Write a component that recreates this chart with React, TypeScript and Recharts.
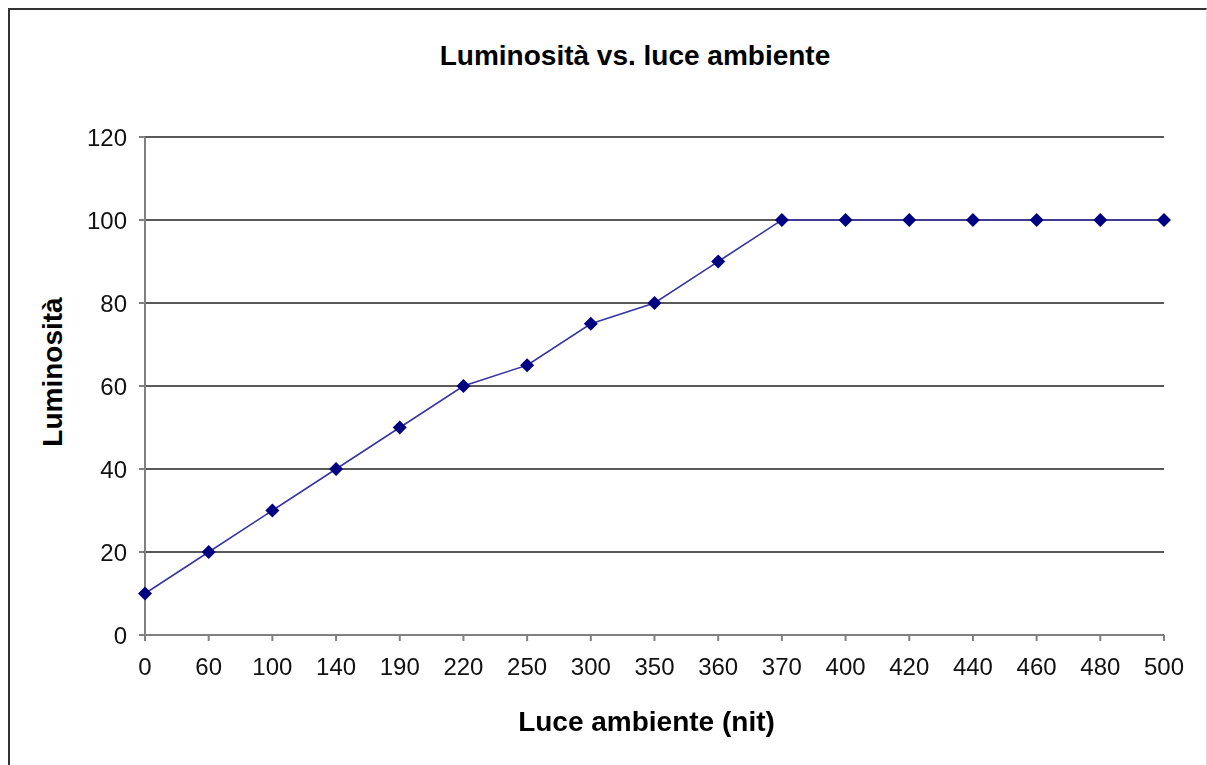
import { LineChart, Line, XAxis, YAxis, CartesianGrid } from 'recharts';

const ambientLight = ['0', '60', '100', '140', '190', '220', '250', '300', '350', '360', '370', '400', '420', '440', '460', '480', '500'];
const brightness = [10, 20, 30, 40, 50, 60, 65, 75, 80, 90, 100, 100, 100, 100, 100, 100, 100];
const yTicks = [0, 20, 40, 60, 80, 100, 120];

const data = ambientLight.map((lux, i) => ({ lux, value: brightness[i] }));

const FONT = '"Liberation Sans", Arial, sans-serif';

function Diamond(props: any) {
  const { cx, cy } = props;
  if (cx == null || cy == null) return null;
  const r = 7;
  return (
    <polygon
      points={`${cx},${cy - r} ${cx + r},${cy} ${cx},${cy + r} ${cx - r},${cy}`}
      fill="#000080"
      stroke="none"
    />
  );
}

export default function App() {
  return (
    <div
      style={{
        position: 'fixed',
        left: 8,
        top: 8,
        width: 1196,
        height: 800,
        borderTop: '2px solid #333',
        borderLeft: '2px solid #333',
        borderRight: '1px solid #ddd',
        background: '#fff',
        fontFamily: FONT,
      }}
    >
      <div
        style={{
          position: 'absolute',
          left: 0,
          width: 1250,
          top: 30,
          textAlign: 'center',
          fontWeight: 'bold',
          fontSize: 28,
          lineHeight: '32px',
        }}
      >
        Luminosità vs. luce ambiente
      </div>
      <div
        style={{
          position: 'absolute',
          left: 43 - 100,
          top: 362 - 16,
          width: 200,
          textAlign: 'center',
          fontWeight: 'bold',
          fontSize: 28,
          lineHeight: '32px',
          transform: 'rotate(-90deg)',
        }}
      >
        Luminosità
      </div>
      <div
        style={{
          position: 'absolute',
          left: 0,
          width: 1273,
          top: 696,
          textAlign: 'center',
          fontWeight: 'bold',
          fontSize: 28,
          lineHeight: '32px',
        }}
      >
        Luce ambiente (nit)
      </div>
      <LineChart
        width={1196}
        height={740}
        data={data}
        margin={{ top: 127, right: 42, left: 75, bottom: 55 }}
        style={{ position: 'absolute', left: 0, top: 0 }}
      >
        <CartesianGrid vertical={false} stroke="#222" strokeWidth={1.3} />
        <XAxis
          dataKey="lux"
          height={60}
          stroke="#808080"
          strokeWidth={2}
          tickSize={6}
          tickMargin={17}
          interval={0}
          tick={{ fill: '#111', fontSize: 24, fontFamily: FONT }}
        />
        <YAxis
          width={60}
          domain={[0, 120]}
          ticks={yTicks}
          stroke="#808080"
          strokeWidth={2}
          tickSize={6}
          tickMargin={12}
          interval={0}
          tick={{ fill: '#111', fontSize: 24, fontFamily: FONT }}
        />
        <Line
          type="linear"
          dataKey="value"
          stroke="#3535a5"
          strokeWidth={1.5}
          dot={<Diamond />}
          activeDot={false}
          isAnimationActive={false}
        />
      </LineChart>
    </div>
  );
}
